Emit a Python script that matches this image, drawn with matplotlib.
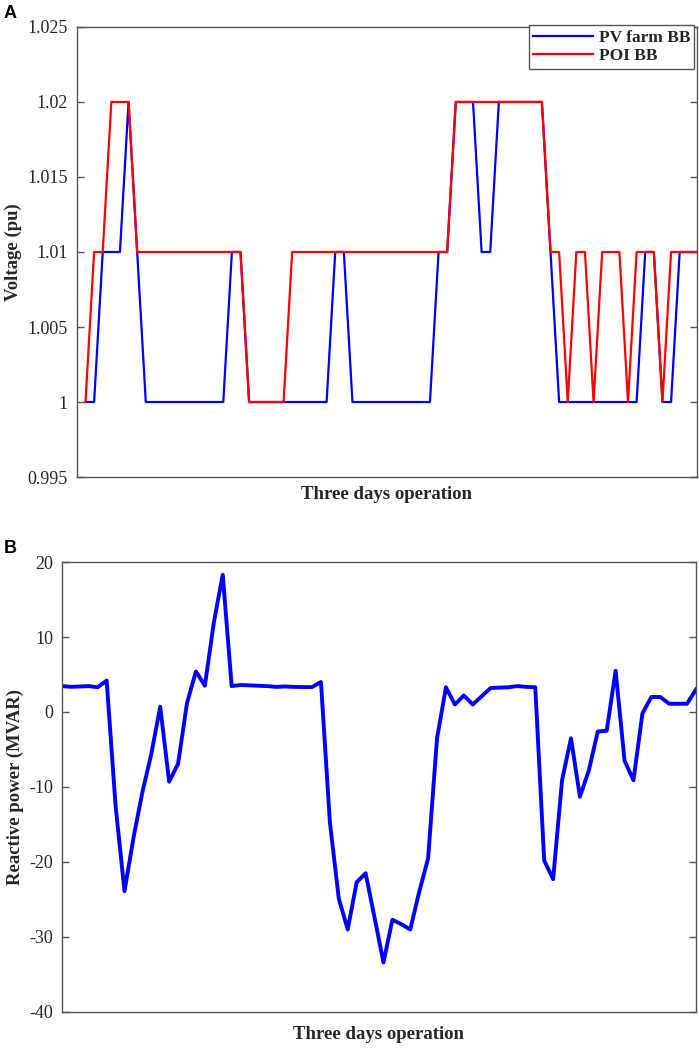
import numpy as np
import matplotlib.pyplot as plt

# hourly samples over three days
hours = np.arange(1, 73)

# panel A: bus-bar voltage (pu)
pv_farm_bb = [1.00, 1.00, 1.01, 1.01, 1.01, 1.02, 1.01, 1.00, 1.00, 1.00,
              1.00, 1.00, 1.00, 1.00, 1.00, 1.00, 1.00, 1.01, 1.01, 1.00,
              1.00, 1.00, 1.00, 1.00, 1.00, 1.00, 1.00, 1.00, 1.00, 1.01,
              1.01, 1.00, 1.00, 1.00, 1.00, 1.00, 1.00, 1.00, 1.00, 1.00,
              1.00, 1.01, 1.01, 1.02, 1.02, 1.02, 1.01, 1.01, 1.02, 1.02,
              1.02, 1.02, 1.02, 1.02, 1.01, 1.00, 1.00, 1.00, 1.00, 1.00,
              1.00, 1.00, 1.00, 1.00, 1.00, 1.01, 1.01, 1.00, 1.00, 1.01,
              1.01, 1.01]
poi_bb = [1.00, 1.01, 1.01, 1.02, 1.02, 1.02, 1.01, 1.01, 1.01, 1.01,
          1.01, 1.01, 1.01, 1.01, 1.01, 1.01, 1.01, 1.01, 1.01, 1.00,
          1.00, 1.00, 1.00, 1.00, 1.01, 1.01, 1.01, 1.01, 1.01, 1.01,
          1.01, 1.01, 1.01, 1.01, 1.01, 1.01, 1.01, 1.01, 1.01, 1.01,
          1.01, 1.01, 1.01, 1.02, 1.02, 1.02, 1.02, 1.02, 1.02, 1.02,
          1.02, 1.02, 1.02, 1.02, 1.01, 1.01, 1.00, 1.01, 1.01, 1.00,
          1.01, 1.01, 1.01, 1.00, 1.01, 1.01, 1.01, 1.00, 1.01, 1.01,
          1.01, 1.01]

# panel B: reactive power (MVAR)
reactive_power = [3.45, 3.36, 3.4, 3.45, 3.3, 4.2, -12.5, -23.9, -16.8, -10.7,
                  -5.6, 0.7, -9.3, -6.9, 1.2, 5.4, 3.5, 11.9, 18.3, 3.45,
                  3.6, 3.55, 3.5, 3.45, 3.35, 3.4, 3.35, 3.32, 3.32, 4.0,
                  -14.7, -24.9, -29.0, -22.7, -21.5, -27.4, -33.4, -27.7, -28.3, -29.0,
                  -24.0, -19.5, -3.5, 3.3, 1.0, 2.2, 1.0, 2.1, 3.2, 3.25,
                  3.3, 3.45, 3.35, 3.3, -19.8, -22.3, -9.1, -3.5, -11.3, -7.8,
                  -2.6, -2.5, 5.5, -6.5, -9.1, -0.2, 2.0, 2.0, 1.1, 1.1,
                  1.1, 3.0]

volt_ticks = [0.995, 1.0, 1.005, 1.01, 1.015, 1.02, 1.025]
volt_labels = ['0.995', '1', '1.005', '1.01', '1.015', '1.02', '1.025']
q_ticks = [-40, -30, -20, -10, 0, 10, 20]
q_labels = ['-40', '-30', '-20', '-10', '0', '10', '20']

serif = 'Liberation Serif'
edge = '#555555'
txt = '#262626'


def style_axes(ax):
    for sp in ax.spines.values():
        sp.set_color(edge)
        sp.set_linewidth(1.0)
    ax.tick_params(axis='y', direction='in', length=5, width=1.0, color=edge,
                   labelcolor=txt, labelsize=13, left=True, right=True, pad=6.5)
    ax.set_xticks([])
    for lab in ax.get_yticklabels():
        lab.set_fontfamily(serif)


fig = plt.figure(figsize=(6.99, 10.57), dpi=100)

# ---- panel A ----
ax1 = fig.add_axes([0.110, 0.5487, 0.887, 0.4258])
ax1.plot(hours, pv_farm_bb, color='#0000ff', lw=1.6, label='PV farm BB')
ax1.plot(hours, poi_bb, color='#ff0000', lw=1.6, label='POI BB')
ax1.set_xlim(0, 72)
ax1.set_ylim(0.995, 1.025)
ax1.set_yticks(volt_ticks)
ax1.set_yticklabels(volt_labels)
style_axes(ax1)
ax1.set_ylabel('Voltage (pu)', fontfamily=serif, fontweight='bold',
               fontsize=13.5, color=txt, labelpad=4)
ax1.set_xlabel('Three days operation', fontfamily=serif, fontweight='bold',
               fontsize=13.5, color=txt, labelpad=6.5)
leg = ax1.legend(loc='upper right', bbox_to_anchor=(0.996, 1.004), borderaxespad=0,
                 prop={'family': serif, 'weight': 'bold', 'size': 12.5},
                 handlelength=3.4, handletextpad=0.35, labelspacing=0.15,
                 borderpad=0.25, fancybox=False, framealpha=1)
leg.get_frame().set_edgecolor(edge)
leg.get_frame().set_linewidth(1.0)
for t in leg.get_texts():
    t.set_color(txt)
fig.text(0.005, 0.995, 'A', fontfamily='Liberation Sans', fontweight='bold',
         fontsize=13, va='top', ha='left')

# ---- panel B ----
ax2 = fig.add_axes([0.0887, 0.0426, 0.907, 0.4257])
ax2.plot(hours, reactive_power, color='#0000ff', lw=2.8)
ax2.set_xlim(1, 72)
ax2.set_ylim(-40, 20)
ax2.set_yticks(q_ticks)
ax2.set_yticklabels(q_labels)
style_axes(ax2)
ax2.set_ylabel('Reactive power (MVAR)', fontfamily=serif, fontweight='bold',
               fontsize=13.5, color=txt, labelpad=4)
ax2.set_xlabel('Three days operation', fontfamily=serif, fontweight='bold',
               fontsize=13.5, color=txt, labelpad=10)
fig.text(0.005, 0.489, 'B', fontfamily='Liberation Sans', fontweight='bold',
         fontsize=13, va='top', ha='left')

fig.savefig('out.png', dpi=100)
